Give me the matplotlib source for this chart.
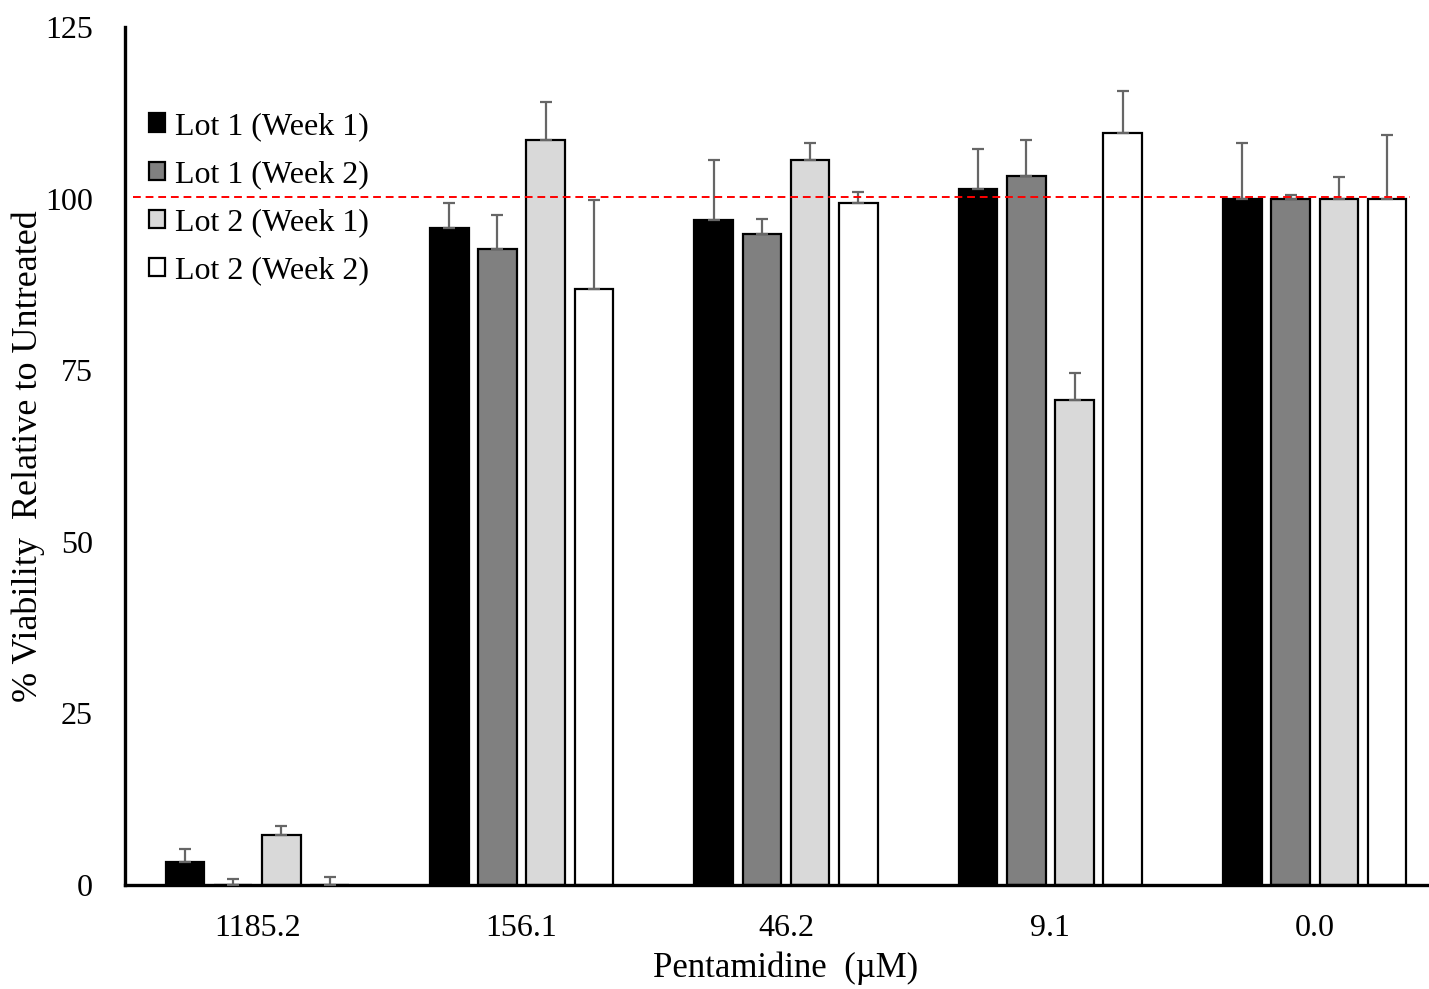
import numpy as np
import matplotlib
matplotlib.use('Agg')
import matplotlib.pyplot as plt

plt.rcParams['font.family'] = ['Liberation Serif', 'DejaVu Serif']

concentrations = ['1185.2', '156.1', '46.2', '9.1', '0.0']
series = ['Lot 1 (Week 1)', 'Lot 1 (Week 2)', 'Lot 2 (Week 1)', 'Lot 2 (Week 2)']
colors = ['#000000', '#808080', '#d9d9d9', '#ffffff']

lot1_week1 = [3.35, 95.7, 96.9, 101.4, 100.0]
lot1_week2 = [0.0, 92.6, 94.8, 103.3, 100.0]
lot2_week1 = [7.3, 108.5, 105.6, 70.6, 100.0]
lot2_week2 = [0.0, 86.8, 99.4, 109.6, 100.0]

# upper error bar ends (mean + sd)
lot1_week1_top = [5.2, 99.4, 105.6, 107.2, 108.1]
lot1_week2_top = [0.87, 97.6, 97.0, 108.5, 100.5]
lot2_week1_top = [8.6, 114.1, 108.1, 74.6, 103.2]
lot2_week2_top = [1.2, 99.8, 100.9, 115.7, 109.3]

reference_line = 100.3

values = [lot1_week1, lot1_week2, lot2_week1, lot2_week2]
tops = [lot1_week1_top, lot1_week2_top, lot2_week1_top, lot2_week2_top]

fig = plt.figure(figsize=(14.29, 9.89), dpi=100)
ax = fig.add_axes([125 / 1429, 104 / 989, 1322 / 1429, 858 / 989])

x = np.arange(len(concentrations))
pitch = 0.1823
width = 0.1456
for i, (vals, top) in enumerate(zip(values, tops)):
    vals = np.array(vals)
    err = np.array(top) - vals
    pos = x + (i - 1.5) * pitch
    ax.bar(pos, vals, width=width, color=colors[i], edgecolor='black',
           linewidth=1.6, label=series[i], zorder=2)
    ax.errorbar(pos, vals, yerr=[np.zeros_like(err), err], fmt='none',
                ecolor='#666666', elinewidth=1.6, capsize=4, capthick=1.6, zorder=3)

ax.axhline(reference_line, xmin=0.006, xmax=0.972, color='red', linestyle=(0, (4, 2.5)),
           linewidth=1.4, zorder=4)

ax.set_xlim(-0.5, 4.5)
ax.set_ylim(0, 125)
ax.set_yticks([0, 25, 50, 75, 100, 125])
ax.set_xticks(x)
ax.set_xticklabels(concentrations)
ax.tick_params(axis='both', length=0, labelsize=23)
ax.tick_params(axis='y', pad=23)
ax.tick_params(axis='x', pad=21)

for side in ['top', 'right']:
    ax.spines[side].set_visible(False)
for side in ['left', 'bottom']:
    ax.spines[side].set_linewidth(2.4)

ax.set_xlabel('Pentamidine  (µM)', fontsize=25)
ax.xaxis.set_label_coords(0.5, -0.078)
ax.set_ylabel('% Viability  Relative to Untreated', fontsize=26)
ax.yaxis.set_label_coords(-0.0605, 0.5)

ax.legend(loc='upper left', bbox_to_anchor=(0.0085, 0.916), frameon=False, fontsize=23,
          handlelength=0.5, handleheight=0.5, handletextpad=0.3, labelspacing=0.6,
          borderaxespad=0)

fig.savefig('out.png', dpi=100)
